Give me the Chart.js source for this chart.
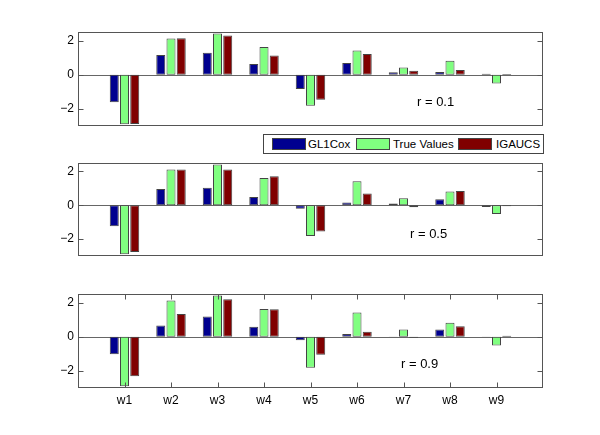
<!DOCTYPE html>
<html lang="en">
<head>
<meta charset="UTF-8">
<title>GL1Cox vs IGAUCS</title>
<script src="https://cdn.jsdelivr.net/npm/chart.js"></script>
<style>
    body {
        margin: 0;
        background: #fff;
        font-family: "Liberation Sans", Arial, sans-serif;
    }
    #wrap { position: relative; width: 600px; height: 435px; }
    .panel { position: absolute; left: 0; width: 600px; }
    .rlabel { position: absolute; font-size: 13px; line-height: 16px; color: #000; }
    #legend {
        position: absolute; left: 263px; top: 134px; width: 279px; height: 18px;
        border: 1px solid #444; background: #fff;
    }
    .sw { position: absolute; top: 3px; width: 32px; height: 10px; border: 1px solid #444; }
    .lt { position: absolute; top: 2px; font-size: 11.5px; line-height: 14px; color: #000; }
</style>
</head>
<body>
<div id="wrap">
    <div class="panel" style="top:32px;height:94px"><canvas id="c1"></canvas></div>
    <div class="panel" style="top:163px;height:93px"><canvas id="c2"></canvas></div>
    <div class="panel" style="top:294px;height:124px"><canvas id="c3"></canvas></div>

    <div class="rlabel" style="left:417px;top:94px">r = 0.1</div>
    <div class="rlabel" style="left:410px;top:226px">r = 0.5</div>
    <div class="rlabel" style="left:401px;top:356px">r = 0.9</div>

    <div id="legend">
        <div class="sw" style="left:8px;background:#00008F"></div>
        <div class="lt" style="left:44px">GL1Cox</div>
        <div class="sw" style="left:92px;background:#80FF80"></div>
        <div class="lt" style="left:129px">True Values</div>
        <div class="sw" style="left:194px;background:#800000"></div>
        <div class="lt" style="left:232px">IGAUCS</div>
    </div>
</div>

<script>
    // data
    const categories = ['w1', 'w2', 'w3', 'w4', 'w5', 'w6', 'w7', 'w8', 'w9'];
    const trueValues = [-2.9, 2.12, 2.41, 1.62, -1.81, 1.42, 0.42, 0.82, -0.52];

    const gl1cox01 = [-1.61, 1.16, 1.29, 0.63, -0.84, 0.69, 0.14, 0.16, 0.06];
    const igaucs01 = [-2.88, 2.14, 2.29, 1.12, -1.47, 1.22, 0.24, 0.27, 0.04];

    const gl1cox05 = [-1.24, 0.96, 1.04, 0.49, -0.2, 0.16, 0.1, 0.35, -0.1];
    const igaucs05 = [-2.76, 2.12, 2.12, 1.71, -1.55, 0.7, -0.12, 0.84, -0.06];

    const gl1cox09 = [-1.02, 0.65, 1.18, 0.59, -0.2, 0.16, 0.02, 0.43, 0.02];
    const igaucs09 = [-2.31, 1.33, 2.2, 1.61, -1.06, 0.29, -0.06, 0.61, 0.06];

    const yTicks = [-2, 0, 2];

    // pad the category axis so it runs 0..10 like the original
    const xLabels = [''].concat(categories, ['']);
    const pad = arr => [null].concat(arr, [null]);

    // box, zero line and inward tick marks
    const boxPlugin = {
        id: 'box',
        beforeDatasetsDraw(chart) {
            const {ctx, chartArea: a, scales: {y}} = chart;
            const y0 = Math.round(y.getPixelForValue(0)) + 0.5;
            ctx.save();
            ctx.strokeStyle = '#666';
            ctx.lineWidth = 1;
            ctx.beginPath();
            ctx.moveTo(a.left, y0);
            ctx.lineTo(a.right, y0);
            ctx.stroke();
            ctx.restore();
        },
        afterDatasetsDraw(chart, args, opts) {
            const {ctx, chartArea: a, scales: {x, y}} = chart;
            const L = Math.round(a.left) + 0.5, R = Math.round(a.right) - 0.5;
            const T = Math.round(a.top) + 0.5, B = Math.round(a.bottom) - 0.5;
            ctx.save();
            ctx.strokeStyle = '#555';
            ctx.lineWidth = 1;
            ctx.strokeRect(L, T, R - L, B - T);
            ctx.beginPath();
            yTicks.forEach(v => {
                const p = Math.round(y.getPixelForValue(v)) + 0.5;
                ctx.moveTo(L, p); ctx.lineTo(L + 5, p);
                ctx.moveTo(R, p); ctx.lineTo(R - 5, p);
            });
            if (opts.xTicks) {
                categories.forEach((c, i) => {
                    const p = Math.round(x.getPixelForValue(i + 1)) + 0.5;
                    ctx.moveTo(p, T); ctx.lineTo(p, T + 5);
                    ctx.moveTo(p, B); ctx.lineTo(p, B - 5);
                });
            }
            ctx.stroke();
            ctx.restore();
        }
    };

    function makeChart(id, gl, ig, showX) {
        const ds = (label, data, color) => ({
            label: label,
            data: pad(data),
            backgroundColor: color,
            borderColor: '#444',
            borderWidth: 1,
            borderSkipped: false,
            categoryPercentage: 0.66,
            barPercentage: 0.88
        });
        return new Chart(document.getElementById(id), {
            type: 'bar',
            data: {
                labels: xLabels,
                datasets: [
                    ds('GL1Cox', gl, '#00008F'),
                    ds('True Values', trueValues, '#80FF80'),
                    ds('IGAUCS', ig, '#800000')
                ]
            },
            options: {
                responsive: true,
                maintainAspectRatio: false,
                animation: false,
                layout: { padding: { left: 0, right: 57, top: 0, bottom: 0 } },
                plugins: {
                    legend: { display: false },
                    tooltip: { enabled: false },
                    box: { xTicks: showX }
                },
                scales: {
                    x: {
                        display: showX,
                        offset: false,
                        grid: { display: false, drawTicks: false },
                        border: { display: false },
                        ticks: {
                            color: '#000',
                            font: { size: 12, family: '"Liberation Sans", Arial, sans-serif' },
                            padding: 5,
                            autoSkip: false,
                            maxRotation: 0
                        },
                        afterFit: s => { s.height = showX ? 30 : 0; s.paddingLeft = 0; s.paddingRight = 0; }
                    },
                    y: {
                        min: -3,
                        max: 2.5,
                        grid: { display: false, drawTicks: false },
                        border: { display: false },
                        afterBuildTicks: s => { s.ticks = yTicks.map(v => ({ value: v })); },
                        ticks: {
                            color: '#000',
                            font: { size: 12, family: '"Liberation Sans", Arial, sans-serif' },
                            padding: 4,
                            callback: v => (v < 0 ? '\u2212' + Math.abs(v) : String(v))
                        },
                        afterFit: s => { s.width = 78; s.paddingTop = 0; s.paddingBottom = 0; }
                    }
                }
            },
            plugins: [boxPlugin]
        });
    }

    makeChart('c1', gl1cox01, igaucs01, false);
    makeChart('c2', gl1cox05, igaucs05, false);
    makeChart('c3', gl1cox09, igaucs09, true);
</script>
</body>
</html>
